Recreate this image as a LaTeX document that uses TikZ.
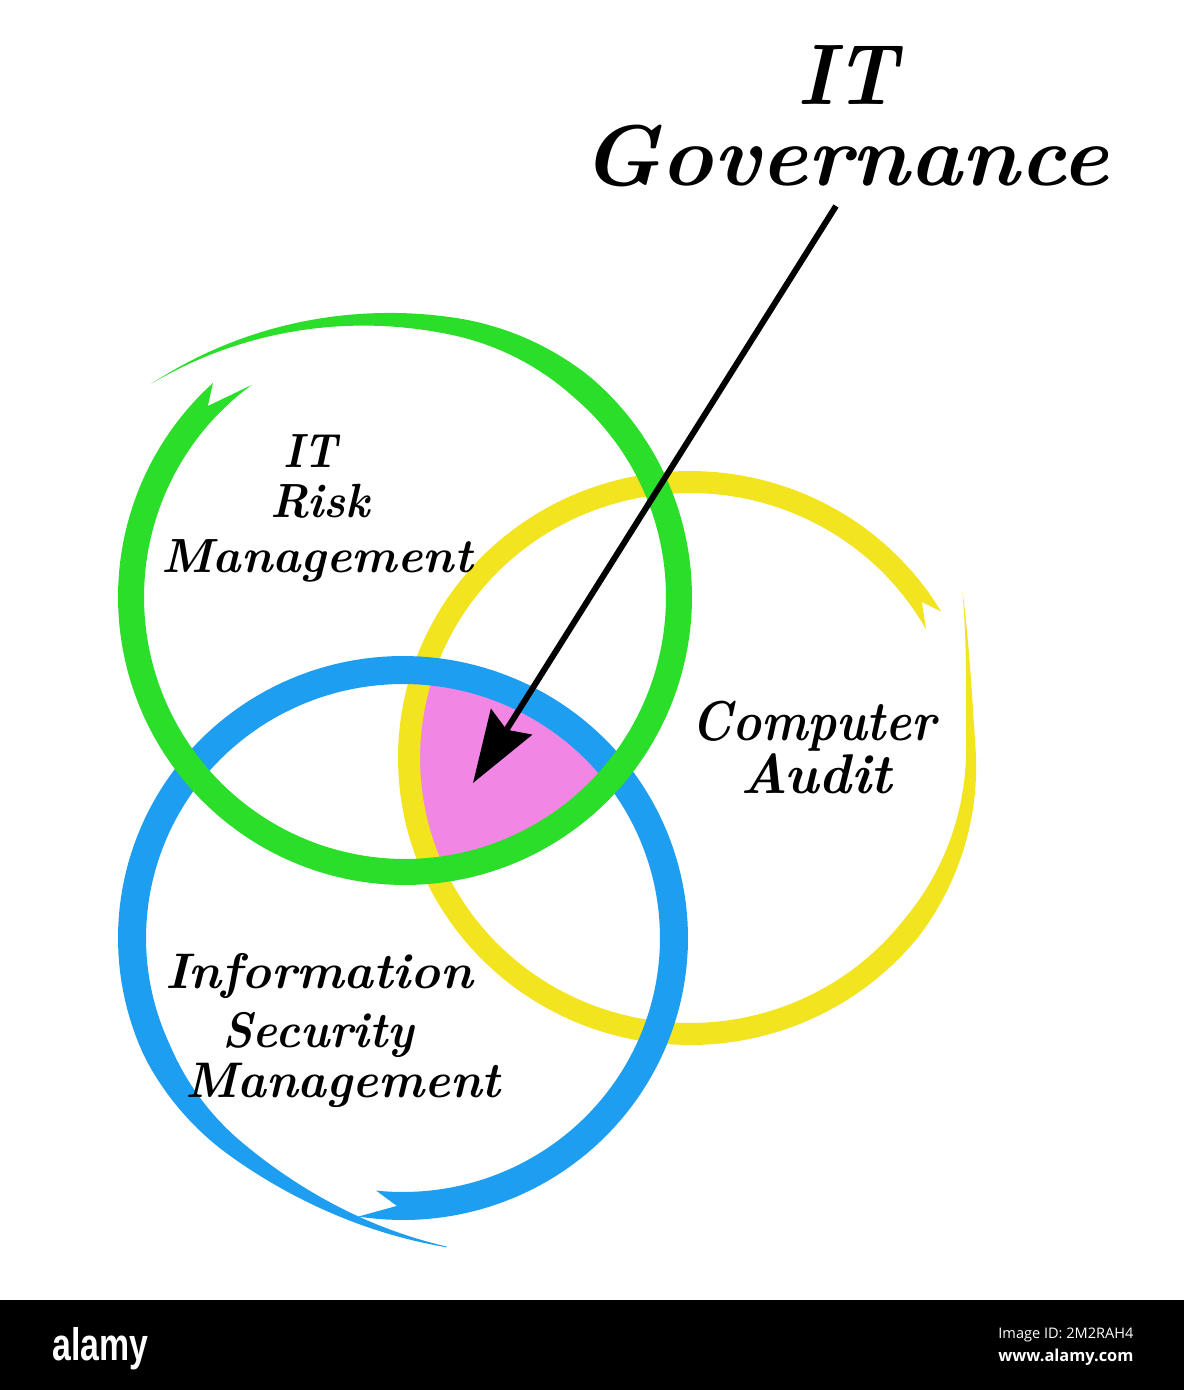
\documentclass[tikz,border=0pt]{standalone}
\usepackage{fontspec}
\usepackage{graphicx}
\usetikzlibrary{arrows.meta}
\newfontfamily\wmsans{Open Sans}
\newfontfamily\wmbold{Liberation Sans}
\definecolor{ringgreen}{RGB}{42,222,42}
\definecolor{ringyellow}{RGB}{242,228,30}
\definecolor{ringblue}{RGB}{30,158,240}
\definecolor{pinkfill}{RGB}{242,134,228}
\newcommand\hwtext[3]{{\fontsize{#2}{#2}\selectfont\bfseries\itshape\resizebox{#1}{\height}{#3}}}
\tikzset{
  hw/.style={anchor=base, inner sep=0pt, text=black},
  wm/.style={anchor=base west, inner sep=0pt, text=white},
  govarrow/.style={line width=3pt, -{Stealth[length=36pt,width=24pt,inset=4.5pt]}}
}
\begin{document}
\begin{tikzpicture}[x=0.5pt,y=-0.5pt,
  declare function={
    gD(\u)=57*(max(0,1-\u/60))^2;
    gW(\u)=26*min(1,\u/90);
    yD(\t)=40*(max(0,(\t-362)/30))^2;
    yW(\t)=22*min(1,(392-\t)/70);
    bD(\t)=44*(max(0,(\t-592)/46))^2;
    bW(\t)=28*min(1,(640-\t)/75);
  }]
\useasboundingbox (0,0) rectangle (1184,1390);
\fill[white] (0,0) rectangle (1184,1390);

% pink intersection
\begin{scope}
  \clip (405,597) ellipse [x radius=274, y radius=275];
  \clip (690,758) ellipse [x radius=281, y radius=276];
  \fill[pinkfill] (403,938) ellipse [x radius=271, y radius=268];
\end{scope}

% yellow ring
\fill[ringyellow]
  plot[domain=30.7:392, samples=200, variable=\t]
    ({690+(281+yD(\t)+yW(\t)/2)*cos(\t)}, {758-(276+yD(\t)+yW(\t)/2)*sin(\t)})
  -- plot[domain=392:29, samples=200, variable=\t]
    ({690+(281+yD(\t)-yW(\t)/2)*cos(\t)}, {758-(276+yD(\t)-yW(\t)/2)*sin(\t)})
  -- ({690+281*cos(34.4)}, {758-276*sin(34.4)})
  -- cycle;

% blue ring
\fill[ringblue]
  plot[domain=261:638, samples=200, variable=\t]
    ({403+(271+bD(\t)+bW(\t)/2)*cos(\t)}, {938-(268+bD(\t)+bW(\t)/2)*sin(\t)})
  -- plot[domain=638:264, samples=200, variable=\t]
    ({403+(271+bD(\t)-bW(\t)/2)*cos(\t)}, {938-(268+bD(\t)-bW(\t)/2)*sin(\t)})
  -- ({403+271*cos(268.7)}, {938-268*sin(268.7)})
  -- cycle;

% green ring
\fill[ringgreen]
  plot[domain=0:368, samples=200, variable=\u]
    ({405+(274+gD(\u)+gW(\u)/2)*cos(140-\u)}, {597-(275+gD(\u)+gW(\u)/2)*sin(140-\u)})
  -- ({405+274*cos(140-364)}, {597-275*sin(140-364)})
  -- plot[domain=374:0, samples=200, variable=\u]
    ({405+(274+gD(\u)-gW(\u)/2)*cos(140-\u)}, {597-(275+gD(\u)-gW(\u)/2)*sin(140-\u)})
  -- cycle;

% texts
\node[hw] (gov1) at (847,105) {\hwtext{50pt}{43pt}{IT}};
\node[hw] (gov2) at (845,186) {\hwtext{263.5pt}{43pt}{Governance}};
\node[hw] (risk1) at (310,467) {\hwtext{27pt}{24pt}{IT}};
\node[hw] (risk2) at (320,517) {\hwtext{50pt}{24pt}{Risk}};
\node[hw] (risk3) at (317,572) {\hwtext{155.5pt}{24pt}{Management}};
\node[hw] (audit1) at (814,740) {\hwtext{122.5pt}{28pt}{Computer}};
\node[hw] (audit2) at (816,793) {\hwtext{76pt}{28pt}{Audit}};
\node[hw] (sec1) at (319,988) {\hwtext{154pt}{25pt}{Information}};
\node[hw] (sec2) at (318,1047) {\hwtext{95.5pt}{25pt}{Security}};
\node[hw] (sec3) at (343,1097) {\hwtext{157.5pt}{25pt}{Management}};

% arrow
\coordinate (arrowstart) at (836,206);
\coordinate (arrowtip) at (473,783);
\draw[govarrow] (arrowstart) -- (arrowtip);

% bottom bar
\fill[black] (0,1300) rectangle (1184,1390);
\node[wm] (wmlogo) at (52,1360) {\resizebox{48pt}{16.5pt}{\wmbold\bfseries alamy}};
\node[wm] (wmid) at (998,1338) {\resizebox{67.5pt}{!}{\wmsans Image ID: 2M2RAH4}};
\node[wm] (wmurl) at (998,1361) {\resizebox{67.5pt}{!}{\wmsans\bfseries www.alamy.com}};
\end{tikzpicture}
\end{document}
